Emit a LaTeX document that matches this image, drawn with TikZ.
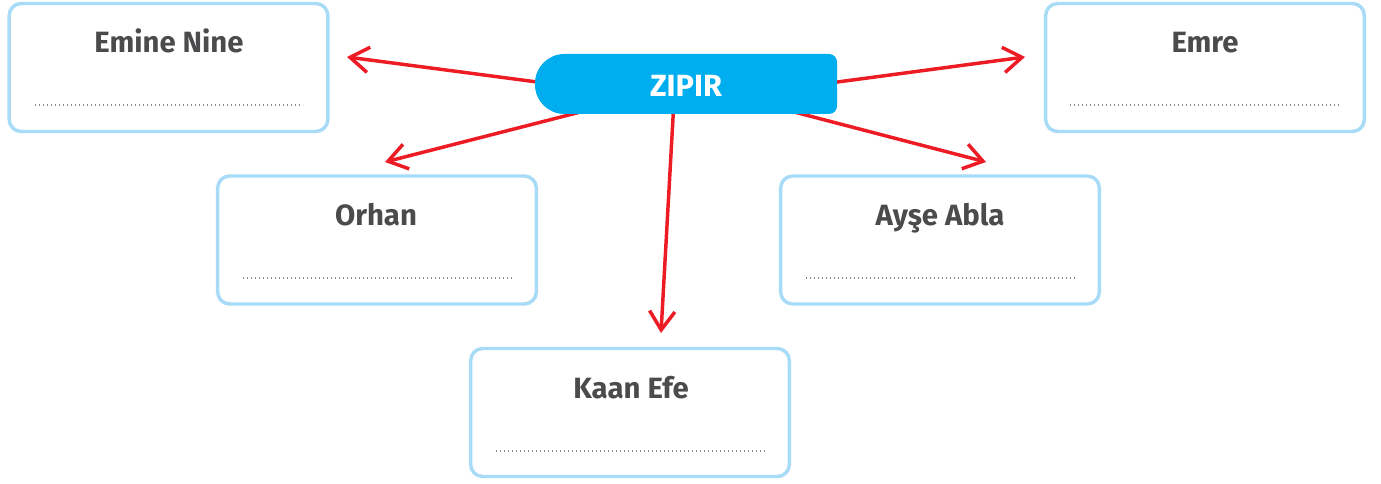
\documentclass[tikz,border=0pt]{standalone}
\usepackage{fontspec}
\setmainfont{Fira Sans}
\usetikzlibrary{arrows.meta}
\definecolor{txt}{HTML}{4B4B4D}
\definecolor{boxc}{HTML}{A8DCF6}
\definecolor{zipc}{HTML}{00AEEF}
\definecolor{redc}{HTML}{ED1C24}
\definecolor{dotc}{HTML}{8A8A8A}
\tikzset{
  namebox/.style={draw=boxc, line width=2.6pt, rounded corners=9pt, fill=white, minimum width=239pt, minimum height=96pt, inner sep=0pt},
  title/.style={anchor=base, text=txt, font=\bfseries\fontsize{22}{25}\selectfont, inner sep=0pt},
  dots/.style={dotc, line width=0.9pt, dash pattern=on 0.9pt off 2.1pt},
  arr/.style={redc, line width=2.6pt, -{Straight Barb[length=14pt, width=19pt, line width=2.6pt]}},
}
\begin{document}
\begin{tikzpicture}[x=0.75pt, y=-0.75pt]
\useasboundingbox (0,0) rectangle (1381,484);
% boxes
\node[namebox] (emine) at (168.5,67.5) {};
\node[namebox] (emre)  at (1205,67.5) {};
\node[namebox] (orhan) at (377,240) {};
\node[namebox] (ayse)  at (940,240) {};
\node[namebox] (kaan)  at (630,412.5) {};
% titles
\node[title] (temine) at (169,53) {Emine Nine};
\node[title] (temre)  at (1205,53) {Emre};
\node[title] (torhan) at (376,226) {Orhan};
\node[title] (tayse)  at (940,226) {Ayşe Abla};
\node[title] (tkaan)  at (631,398) {Kaan Efe};
% dotted lines
\draw[dots] (35,105) -- (303,105);
\draw[dots] (1070,105) -- (1340,105);
\draw[dots] (243,278) -- (512,278);
\draw[dots] (806,278) -- (1075,278);
\draw[dots] (496,451) -- (765,451);
% arrow coordinates
\coordinate (s1) at (560,85);   \coordinate (e1) at (347,57);
\coordinate (s2) at (815,85);   \coordinate (e2) at (1025,57);
\coordinate (s3) at (600,107);  \coordinate (e3) at (385,162);
\coordinate (s4) at (775,107);  \coordinate (e4) at (986,162);
\coordinate (s5) at (674,100);  \coordinate (e5) at (661,333);
\draw[arr] (s1) -- (e1);
\draw[arr] (s2) -- (e2);
\draw[arr] (s3) -- (e3);
\draw[arr] (s4) -- (e4);
\draw[arr] (s5) -- (e5);
% ZIPIR shape
\fill[zipc] (686,54) [rounded corners=6pt] -- (837,54) -- (837,114) -- (686,114)
  [rounded corners=22pt] -- (535,114) -- (535,54) -- cycle;
\node[anchor=base, text=white, font=\bfseries\fontsize{23}{26}\selectfont, inner sep=0pt] (zipir) at (686,97) {ZIPIR};
\end{tikzpicture}
\end{document}
